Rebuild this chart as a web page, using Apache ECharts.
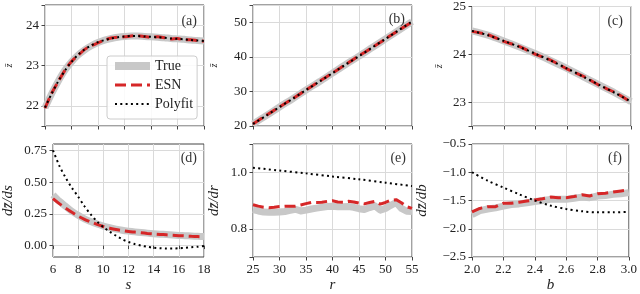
<!DOCTYPE html>
<html><head><meta charset="utf-8">
<script src="https://cdn.jsdelivr.net/npm/echarts@6/dist/echarts.min.js"></script>
<style>html,body{margin:0;padding:0;background:#fff}#c{width:640px;height:294px}</style>
</head><body><div id="c"></div>
<script>
// ---------- data ----------
const sVals = [6,6.5,7,7.5,8,8.5,9,9.5,10,10.5,11,11.5,12,12.5,13,13.5,14,14.5,15,15.5,16,16.5,17,17.5,18];
const trueA = [21.95,22.30,22.61,22.88,23.09,23.26,23.39,23.49,23.57,23.63,23.67,23.70,23.72,23.73,23.73,23.72,23.71,23.70,23.69,23.67,23.66,23.65,23.63,23.62,23.61];
const esnA  = [21.94,22.31,22.60,22.88,23.10,23.25,23.40,23.49,23.56,23.63,23.68,23.70,23.71,23.73,23.74,23.72,23.70,23.71,23.69,23.66,23.67,23.64,23.64,23.62,23.60];
const polyA = [21.96,22.30,22.61,22.87,23.09,23.27,23.40,23.50,23.58,23.63,23.67,23.70,23.72,23.73,23.73,23.72,23.71,23.70,23.69,23.67,23.66,23.65,23.63,23.62,23.61];

const rVals = [25,27.5,30,32.5,35,37.5,40,42.5,45,47.5,50,52.5,55];
const trueB = [20.6,23.0,25.5,27.9,30.4,32.8,35.3,37.8,40.2,42.7,45.2,47.7,50.2];
const esnB  = [20.6,23.1,25.5,27.9,30.4,32.9,35.3,37.8,40.3,42.7,45.2,47.7,50.1];
const polyB = [20.6,23.0,25.5,27.9,30.4,32.8,35.3,37.8,40.2,42.7,45.2,47.7,50.2];

const bVals = [2.0,2.1,2.2,2.3,2.4,2.5,2.6,2.7,2.8,2.9,3.0];
const trueC = [24.49,24.40,24.28,24.15,24.01,23.86,23.70,23.53,23.36,23.19,23.01];
const esnC  = [24.48,24.41,24.27,24.16,24.00,23.87,23.69,23.54,23.35,23.20,23.00];
const polyC = [24.49,24.40,24.28,24.15,24.01,23.86,23.70,23.53,23.36,23.19,23.01];

const trueD = [0.40,0.35,0.31,0.27,0.238,0.21,0.189,0.170,0.154,0.141,0.130,0.121,0.114,0.108,0.103,0.098,0.094,0.090,0.087,0.083,0.080,0.078,0.075,0.073,0.071];
const esnD  = [0.37,0.33,0.295,0.262,0.232,0.207,0.186,0.167,0.15,0.137,0.126,0.118,0.111,0.106,0.101,0.096,0.092,0.088,0.085,0.081,0.078,0.076,0.073,0.071,0.069];
const polyD = [0.75,0.63,0.535,0.455,0.385,0.31,0.245,0.19,0.145,0.11,0.078,0.05,0.028,0.012,0.0,-0.01,-0.017,-0.021,-0.023,-0.023,-0.021,-0.018,-0.013,-0.009,-0.004];

const rFine = [25,26,27,28,29,30,31,32,33,34,35,36,37,38,39,40,41,42,43,44,45,46,47,48,49,50,51,52,53,54,55];
const trueE = [0.868,0.863,0.859,0.858,0.858,0.859,0.861,0.865,0.869,0.863,0.866,0.870,0.873,0.876,0.879,0.880,0.878,0.878,0.879,0.876,0.871,0.868,0.875,0.881,0.866,0.872,0.883,0.893,0.872,0.862,0.861];
const esnE  = [0.885,0.880,0.876,0.874,0.876,0.879,0.880,0.880,0.880,0.884,0.889,0.893,0.893,0.894,0.897,0.899,0.895,0.894,0.897,0.895,0.891,0.888,0.893,0.897,0.887,0.893,0.901,0.903,0.892,0.878,0.872];
const rPoly = [25,30,35,40,45,50,55];
const polyE = [1.016,1.006,0.996,0.985,0.975,0.963,0.951];

const bFine = [2.00,2.05,2.10,2.15,2.20,2.25,2.30,2.35,2.40,2.45,2.50,2.55,2.60,2.65,2.70,2.75,2.80,2.85,2.90,2.95,3.00];
const trueF = [-1.75,-1.68,-1.65,-1.63,-1.60,-1.57,-1.56,-1.54,-1.52,-1.50,-1.48,-1.48,-1.48,-1.46,-1.44,-1.45,-1.42,-1.41,-1.39,-1.38,-1.36];
const esnF  = [-1.70,-1.64,-1.61,-1.61,-1.55,-1.55,-1.53,-1.51,-1.49,-1.47,-1.44,-1.45,-1.45,-1.43,-1.40,-1.42,-1.38,-1.37,-1.35,-1.33,-1.31];
const polyF = [-1.00,-1.15,-1.27,-1.39,-1.50,-1.59,-1.65,-1.69,-1.71,-1.71,-1.70];

const yTicksD = [0, 0.25, 0.5, 0.75];
const panelLabels = ['(a)','(b)','(c)','(d)','(e)','(f)'];

// ---------- styling ----------
const FONT = '"Liberation Serif", "DejaVu Serif", serif';
const TXT = '#222';
const SPINE = '#444';
const GRIDC = '#dadada';
const pairs = (xs, ys) => xs.map((x, i) => [x, ys[i]]);
const minus = s => s.replace('-', '\u2212');

const gridPos = [
  {left:45, top:5, width:159, height:121},
  {left:253, top:5, width:159, height:121},
  {left:472, top:5, width:159, height:121},
  {left:45, top:144, width:159, height:120},
  {left:253, top:144, width:159, height:120},
  {left:472, top:144, width:159, height:120}
];
const grids = gridPos.map(g => Object.assign({show:true, borderColor:SPINE, borderWidth:1, backgroundColor:'transparent'}, g));

function xAxis(gi, min, max, interval, showLabel, dec, name) {
  return {
    type:'value', gridIndex:gi, min, max, interval,
    axisLine:{show:false},
    axisTick:{show:true, inside:false, length:3.5, lineStyle:{color:SPINE}},
    axisLabel:{show:showLabel, margin:6, fontFamily:FONT, fontSize:13, color:TXT,
      formatter: v => minus(Number(v).toFixed(dec))},
    splitLine:{show:true, lineStyle:{color:GRIDC, width:1}},
    name: name || '', nameLocation:'middle', nameGap:21,
    nameTextStyle:{fontFamily:FONT, fontSize:15, fontStyle:'italic', color:TXT}
  };
}
function yAxis(gi, min, max, opts) {
  const ax = {
    type:'value', gridIndex:gi, min, max,
    axisLine:{show:false},
    axisTick:{show:true, inside:false, length:3.5, lineStyle:{color:SPINE}},
    axisLabel:{show:true, margin:6, fontFamily:FONT, fontSize:13, color:TXT, formatter: opts.fmt},
    splitLine:{show:true, lineStyle:{color:GRIDC, width:1}},
    name: opts.name, nameLocation:'middle', nameGap: opts.gap, nameRotate:90,
    nameTextStyle:{fontFamily:FONT, fontSize: opts.nameSize, fontStyle:'italic', color:TXT}
  };
  if (opts.splitNumber) ax.splitNumber = opts.splitNumber;
  if (opts.custom) { ax.axisTick.customValues = opts.custom; ax.axisLabel.customValues = opts.custom; }
  return ax;
}
const near = (v, t) => Math.abs(v - t) < 1e-6;
const zbar = 'z\u0304';

const xAxes = [
  xAxis(0, 6, 18, 2, false, 0),
  xAxis(1, 25, 55, 5, false, 0),
  xAxis(2, 2, 3, 0.2, false, 1),
  xAxis(3, 6, 18, 2, true, 0, 's'),
  xAxis(4, 25, 55, 5, true, 0, 'r'),
  xAxis(5, 2, 3, 0.2, true, 1, 'b')
];
const yAxes = [
  yAxis(0, 21.5, 24.5, {splitNumber:3, fmt: v => Number.isInteger(v) ? String(v) : '', name: zbar, gap:31, nameSize:10}),
  yAxis(1, 20, 55, {splitNumber:4, fmt: v => (v % 10 === 0) ? String(v) : '', name: zbar, gap:34, nameSize:10}),
  yAxis(2, 22.5, 25, {splitNumber:3, fmt: v => Number.isInteger(v) ? String(v) : '', name: zbar, gap:28, nameSize:10}),
  yAxis(3, -0.09, 0.8, {custom: yTicksD, fmt: v => Number(v).toFixed(2), name: 'd' + zbar + '/ds', gap:37, nameSize:15}),
  yAxis(4, 0.7, 1.1, {splitNumber:2, fmt: v => (near(v,0.8)||near(v,1.0)) ? Number(v).toFixed(1) : '', name: 'd' + zbar + '/dr', gap:31, nameSize:15}),
  yAxis(5, -2.5, -0.5, {splitNumber:4, fmt: v => minus(Number(v).toFixed(1)), name: 'd' + zbar + '/db', gap:42, nameSize:15})
];

const panels = [
  {x:sVals, t:trueA, e:esnA, px:sVals, p:polyA, smooth:true},
  {x:rVals, t:trueB, e:esnB, px:rVals, p:polyB, smooth:true},
  {x:bVals, t:trueC, e:esnC, px:bVals, p:polyC, smooth:true},
  {x:sVals, t:trueD, e:esnD, px:sVals, p:polyD, smooth:true},
  {x:rFine, t:trueE, e:esnE, px:rPoly, p:polyE, smooth:false},
  {x:bFine, t:trueF, e:esnF, px:bVals, p:polyF, smooth:false}
];
const TRUE_C = '#c8c8c8', ESN_C = '#d62728';
const series = [];
panels.forEach((pn, i) => {
  series.push({name:'True', type:'line', xAxisIndex:i, yAxisIndex:i, data:pairs(pn.x, pn.t),
    showSymbol:false, symbol:'none', smooth:pn.smooth ? 0.3 : false, z:2,
    lineStyle:{color:TRUE_C, width:7, cap:'butt', join:'round'}, itemStyle:{color:TRUE_C}, silent:true, animation:false});
  series.push({name:'ESN', type:'line', xAxisIndex:i, yAxisIndex:i, data:pairs(pn.x, pn.e),
    showSymbol:false, symbol:'none', smooth:pn.smooth ? 0.3 : false, z:3,
    lineStyle:{color:ESN_C, width:3, type:[11,5], cap:'butt'}, itemStyle:{color:ESN_C}, silent:true, animation:false});
  series.push({name:'Polyfit', type:'line', xAxisIndex:i, yAxisIndex:i, data:pairs(pn.px, pn.p),
    showSymbol:false, symbol:'none', smooth:0.3, z:4,
    lineStyle:{color:'#000', width:2, type:[2,3.3], cap:'butt'}, itemStyle:{color:'#000'}, silent:true, animation:false});
});

const labelPos = [[197,21],[405,19],[623,21],[197,158],[406,158],[622,158]];
const graphics = panelLabels.map((t, i) => ({
  type:'text', x:labelPos[i][0], y:labelPos[i][1], z:10,
  style:{text:t, font:'14px ' + FONT, fill:'#333', textAlign:'right', textVerticalAlign:'middle'}
}));

const hidden = {color:'rgba(0,0,0,0)', borderColor:'rgba(0,0,0,0)', borderWidth:0, opacity:0};
const option = {
  animation:false,
  backgroundColor:'#fff',
  grid: grids,
  xAxis: xAxes,
  yAxis: yAxes,
  series,
  graphic: graphics,
  legend: {
    show:true, orient:'vertical', left:107, top:56,
    padding:[3,4,8,4], itemWidth:35, itemHeight:14, itemGap:5,
    backgroundColor:'rgba(255,255,255,0.85)', borderColor:'#cccccc', borderWidth:1, borderRadius:3,
    textStyle:{fontFamily:FONT, fontSize:14, color:TXT},
    selectedMode:false, z:20,
    itemStyle: hidden,
    data:[
      {name:'True', itemStyle:hidden, lineStyle:{color:TRUE_C, width:8, type:'solid', cap:'butt'}},
      {name:'ESN', itemStyle:hidden, lineStyle:{color:ESN_C, width:3, type:[11,5], cap:'butt'}},
      {name:'Polyfit', itemStyle:hidden, lineStyle:{color:'#000', width:2, type:[2,3.3], cap:'butt'}}
    ]
  }
};
const chart = echarts.init(document.getElementById('c'), null, {renderer:'canvas'});
chart.setOption(option);
</script>
</body></html>
